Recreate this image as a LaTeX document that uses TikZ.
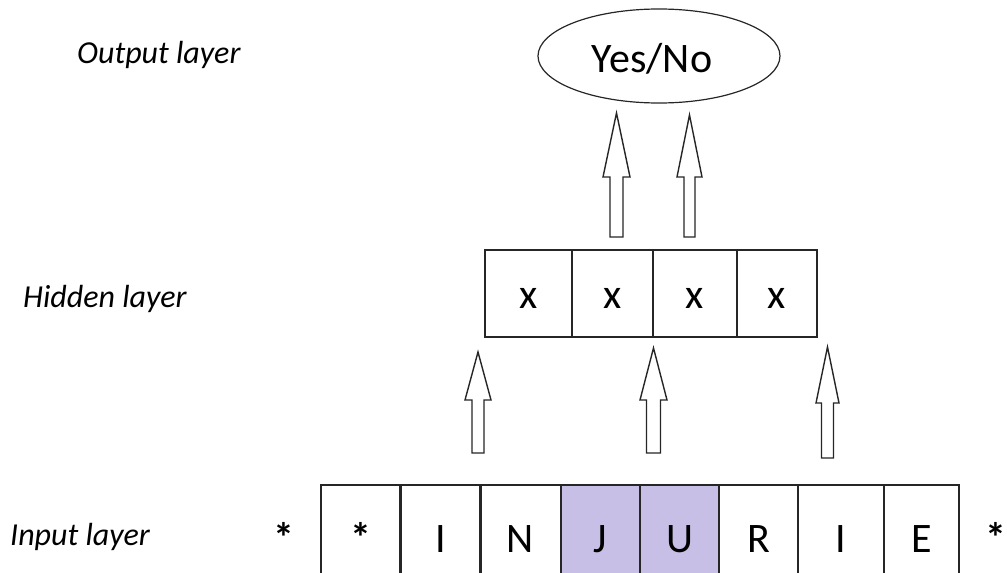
\documentclass[tikz,border=0pt]{standalone}
\usepackage{fontspec}
\setmainfont{Carlito}
\usetikzlibrary{shapes.geometric}
\definecolor{inkline}{RGB}{38,38,38}
\definecolor{jucell}{RGB}{199,191,229}
\begin{document}
\begin{tikzpicture}[x=1pt,y=-1pt,
  layerlabel/.style={font=\fontsize{32}{38}\selectfont\itshape, anchor=base west, inner sep=0pt},
  glyph/.style={font=\fontsize{42}{50}\selectfont, inner sep=0pt, text height=29pt, text depth=0pt},
  star/.style={glyph, font=\fontsize{42}{50}\selectfont\bfseries},
  cellbox/.style={glyph, draw=inkline, line width=1.5pt},
  hcell/.style={cellbox, minimum width=#1, minimum height=87},
  icell/.style={cellbox, minimum width=#1, minimum height=105},
  arrowline/.style={draw=inkline, line width=1.4pt, fill=white, line join=miter},
  % hollow block arrow pointing up: total length, head length, head half width, shaft half width
  pics/blockup/.style n args={4}{code={
    \draw[arrowline] (-#4,0) -- (-#4,-#1+#2) -- (-#3,-#1+#2) -- (0,-#1)
      -- (#3,-#1+#2) -- (#4,-#1+#2) -- (#4,0) -- cycle;
  }}
]
\useasboundingbox (0,0) rectangle (1007,573);

% layer captions
\node[layerlabel] (lout) at (77,63) {Output layer};
\node[layerlabel] (lhid) at (23,307) {Hidden layer};
\node[layerlabel] (linp) at (10,545) {Input layer};

% output layer
\node[ellipse, draw=inkline, line width=1.2pt, minimum width=242, minimum height=94, inner sep=0pt] (out) at (659,56) {};
\node[font=\fontsize{42}{50}\selectfont, anchor=base, inner sep=0pt] (yesno) at (652,72) {Yes/No};

% hidden layer
\node[hcell=87] (h1) at (528.5,293.5) {x};
\node[hcell=81] (h2) at (612.5,293.5) {x};
\node[hcell=84] (h3) at (695,293.5) {x};
\node[hcell=80] (h4) at (777,293.5) {x};
\draw[inkline, line width=1.5pt] ([yshift=-4pt]h3.north west) -- ([yshift=3pt]h3.south west);
\draw[inkline, line width=1.5pt] (h4.south west) -- ([yshift=5pt]h4.south west);

% input layer
\node[star] (pad0) at (284,537.5) {*};
\node[icell=79, font=\fontsize{42}{50}\selectfont\bfseries] (c1) at (360.5,537.5) {*};
\node[icell=80] (c2) at (441,537.5) {I};
\node[icell=81] (c3) at (520.5,537.5) {N};
\node[icell=79, fill=jucell] (c4) at (600.5,537.5) {J};
\node[icell=79, fill=jucell] (c5) at (679.5,537.5) {U};
\node[icell=79] (c6) at (758.5,537.5) {R};
\node[icell=86] (c7) at (841,537.5) {I};
\node[icell=75] (c8) at (921.5,537.5) {E};
\node[star] (pad1) at (996,537.5) {*};

% input -> hidden
\pic (a1) at (478,453) {blockup={101}{48}{13}{6}};
\pic (a2) at (653.5,453) {blockup={105}{52}{13.5}{7}};
\pic (a3) at (827.5,458) {blockup={111}{56}{11.5}{6}};

% hidden -> output
\pic (b1) at (616.5,237) {blockup={124}{64}{13.5}{6.5}};
\pic (b2) at (689.5,237) {blockup={122}{62}{12.5}{5.5}};
\end{tikzpicture}
\end{document}
